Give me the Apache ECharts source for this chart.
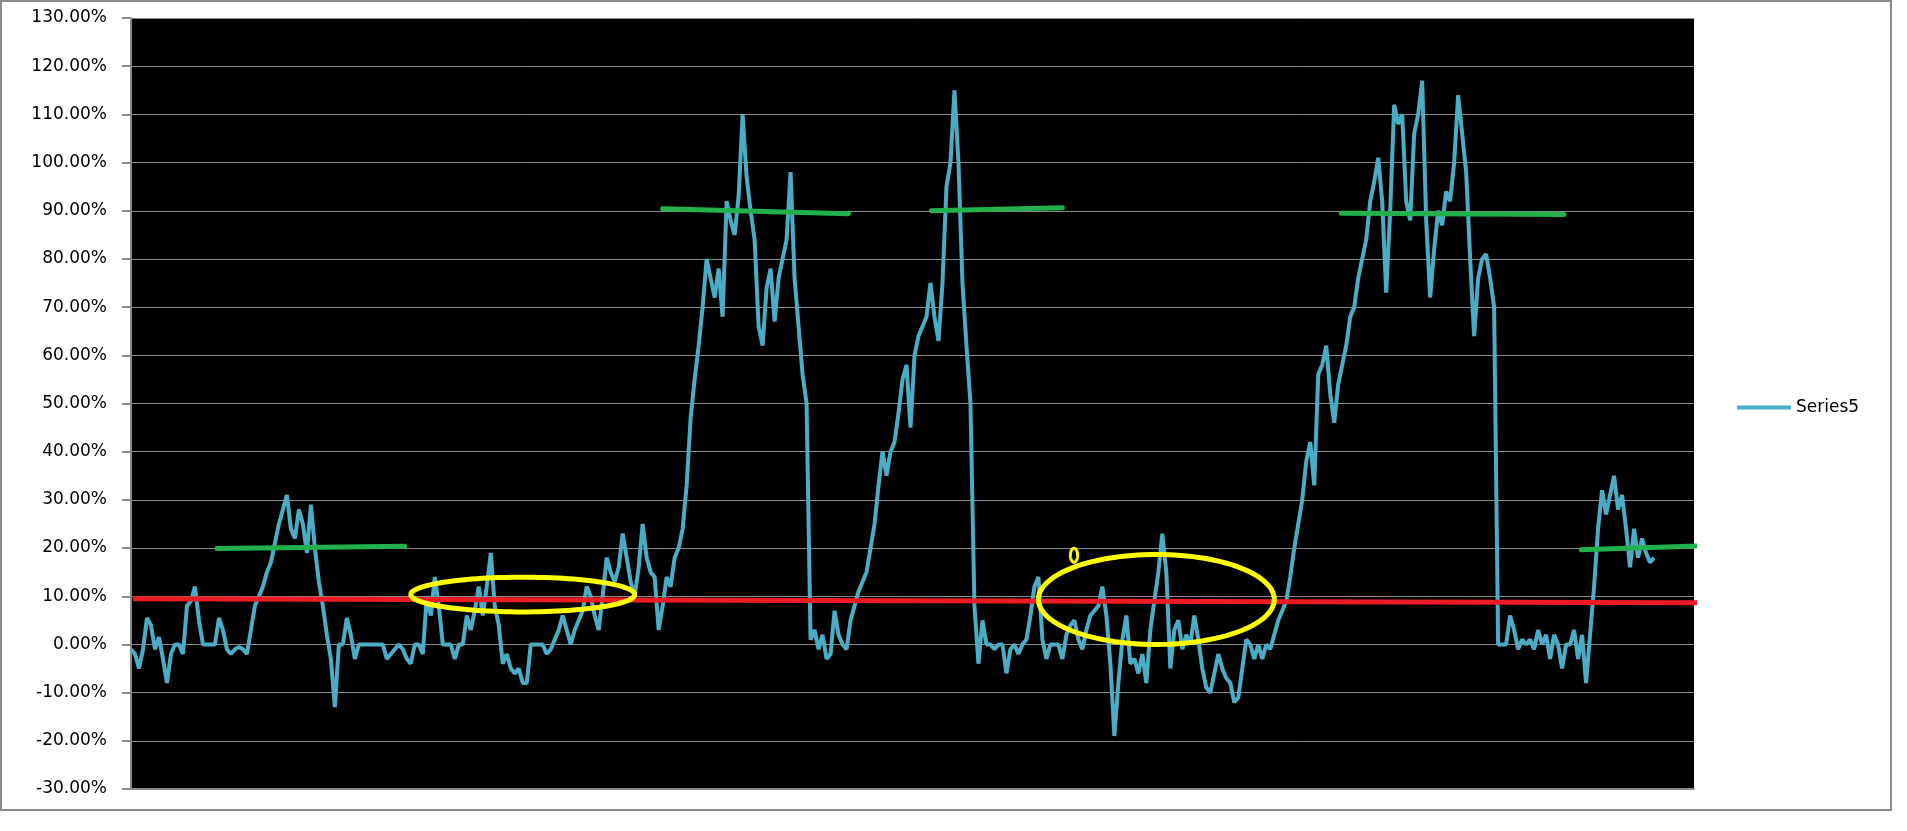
<!DOCTYPE html>
<html>
<head>
<meta charset="utf-8">
<script src="https://cdn.jsdelivr.net/npm/echarts@6.0.0/dist/echarts.min.js"></script>
<style>
	html, body { margin: 0; padding: 0; background: #fff; }
	#chart { width: 1907px; height: 831px; }
</style>
</head>
<body>
<div id="chart"></div>
<script>
// Series5, in percent, one value per step along the x axis
const series5 = [
	-1, -2, -5, -1, 5.5, 4, -1, 1.5, -3, -8,
	-2, 0, 0, -2, 8, 9, 12, 5, 0, 0,
	0, 0, 5.5, 3, -1, -2, -1, -0.5, -1, -2,
	3, 8, 10, 12, 15, 17, 21, 25, 28, 31,
	24, 22, 28, 25, 19, 29, 20, 13, 8, 2,
	-3, -13, 0, 0, 5.5, 2, -3, 0, 0, 0,
	0, 0, 0, 0, -3, -2, -1, 0, -1, -3,
	-4, 0, 0, -2, 10, 6, 14, 8, 0, 0,
	0, -3, 0, 0, 6, 3, 7, 12, 6, 12,
	19, 8, 4, -4, -2, -5, -6, -5, -8, -8,
	0, 0, 0, 0, -2, -1, 1, 3, 6, 3,
	0, 3, 5, 7, 12, 10, 6, 3, 10, 18,
	15, 13, 16, 23, 18, 13, 10, 16, 25, 18,
	15, 14, 3, 8, 14, 12, 18, 20, 24, 33,
	47, 55, 62, 70, 80, 76, 72, 78, 68, 92,
	88, 85, 93, 110, 97, 90, 84, 66, 62, 74,
	78, 67, 76, 80, 84, 98, 76, 66, 56, 50,
	1, 3, -1, 2, -3, -2, 7, 2, 0, -1,
	5, 8, 11, 13, 15, 20, 25, 33, 40, 35,
	40, 42, 48, 55, 58, 45, 60, 64, 66, 68,
	75, 68, 63, 75, 95, 100, 115, 100, 75, 62,
	50, 8, -4, 5, 0, 0, -1, 0, 0, -6,
	-1, 0, -2, 0, 1, 6, 12, 14, 1, -3,
	0, 0, 0, -3, 2, 4, 5, 1, -1, 3,
	6, 7, 8, 12, 6, -4, -19, -8, 1, 6,
	-4, -3, -6, -2, -8, 3, 9, 15, 23, 15,
	-5, 3, 5, -1, 2, 0, 6, 1, -5, -9,
	-10, -6, -2, -5, -7, -8, -12, -11, -5, 1,
	0, -3, 0, -3, 0, -1, 2, 5, 7, 9,
	14, 20, 25, 30, 38, 42, 33, 56, 58, 62,
	52, 46, 54, 58, 62, 68, 70, 76, 80, 84,
	92, 96, 101, 92, 73, 90, 112, 108, 110, 92,
	88, 106, 110, 117, 88, 72, 82, 90, 87, 94,
	92, 100, 114, 106, 98, 80, 64, 76, 80, 81,
	76, 70, 0, 0, 0, 6, 3, -1, 1, 0,
	1, -1, 3, 0, 2, -3, 2, 0, -5, 0,
	0, 3, -3, 2, -8, 2, 12, 24, 32, 27,
	31, 35, 28, 31, 24, 16, 24, 18, 22, 19,
	17, 18,
]
const xSteps = 391

// hand drawn red line across the chart
const redLineX = [0.5, 392.75]
const redLineY = [9.5, 8.65]

// hand drawn green segments
const greenX0 = [21.5, 133, 200.25, 302.75, 362.75]
const greenX1 = [68.5, 179.5, 233, 358.5, 394]
const greenY0 = [19.9, 90.4, 90.0, 89.5, 19.65]
const greenY1 = [20.4, 89.4, 90.6, 89.2, 20.5]

// yellow ellipses: centre and radii in axis units
const ellipseCx = [98, 256.5, 235.9]
const ellipseCy = [10.35, 9.34, 18.5]
const ellipseRx = [28, 29.5, 0.9]
const ellipseRy = [3.6, 9.34, 1.45]

const yMin = -30
const yMax = 130
const yStep = 10

const chart = echarts.init(document.getElementById("chart"))

let greenSeries = greenX0.map((x0, k) => ({
	name: "green" + k,
	type: "line",
	z: 4,
	clip: false,
	silent: true,
	symbol: "none",
	lineStyle: { color: "#22b14c", width: 5, cap: "round" },
	data: [[x0, greenY0[k]], [greenX1[k], greenY1[k]]],
}))

let options = {
	animation: false,
	grid: {
		left: 131,
		right: 213,
		top: 18,
		bottom: 42,
		show: true,
		backgroundColor: "#000",
		borderWidth: 0,
	},
	legend: {
		data: ["Series5"],
		left: 1732,
		top: 394,
		icon: "rect",
		itemWidth: 54,
		itemHeight: 4,
		itemGap: 4,
		textStyle: { color: "#000", fontSize: 17, fontFamily: "DejaVu Sans" },
	},
	graphic: [
		{
			type: "rect",
			z: -1,
			shape: { x: 1, y: 1, width: 1890, height: 809 },
			style: { fill: "none", stroke: "#8a8a8a", lineWidth: 2 },
		},
	],
	xAxis: {
		type: "value",
		min: 0,
		max: xSteps,
		axisLine: { show: true, onZero: false, lineStyle: { color: "#8a8a8a", width: 2 } },
		axisTick: { show: false },
		axisLabel: { show: false },
		splitLine: { show: false },
	},
	yAxis: {
		type: "value",
		min: yMin,
		max: yMax,
		interval: yStep,
		axisLine: { show: true, lineStyle: { color: "#8a8a8a", width: 2 } },
		axisTick: { show: true, length: 9, lineStyle: { color: "#8a8a8a", width: 2 } },
		splitLine: { show: true, lineStyle: { color: "#8a8a8a", width: 1 } },
		axisLabel: {
			color: "#000",
			fontSize: 17,
			fontFamily: "DejaVu Sans",
			margin: 24,
			formatter: (v) => v.toFixed(2) + "%",
		},
	},
	series: [
		{
			name: "Series5",
			type: "line",
			z: 2,
			symbol: "none",
			color: "#4bacc6",
			lineStyle: { color: "#4bacc6", width: 4 },
			data: series5.map((v, i) => [i, v]),
		},
		{
			name: "red",
			type: "line",
			z: 3,
			clip: false,
			silent: true,
			symbol: "none",
			lineStyle: { color: "#ed1c24", width: 5 },
			data: redLineX.map((x, k) => [x, redLineY[k]]),
		},
		...greenSeries,
		{
			name: "ellipses",
			type: "custom",
			z: 5,
			clip: false,
			silent: true,
			encode: { x: 0, y: 1 },
			data: ellipseCx.map((cx, k) => [cx, ellipseCy[k], ellipseRx[k], ellipseRy[k]]),
			renderItem: (params, api) => {
				const c = api.coord([api.value(0), api.value(1)])
				const s = api.size([api.value(2), api.value(3)])
				const pts = []
				for (let k = 0; k < 120; k++) {
					const a = (k / 120) * Math.PI * 2
					pts.push([c[0] + s[0] * Math.cos(a), c[1] + s[1] * Math.sin(a)])
				}
				return {
					type: "polygon",
					shape: { points: pts },
					style: { fill: "none", stroke: "#ffff00", lineWidth: s[0] < 10 ? 3 : 5 },
				}
			},
		},
	],
}

chart.setOption(options)
</script>
</body>
</html>
